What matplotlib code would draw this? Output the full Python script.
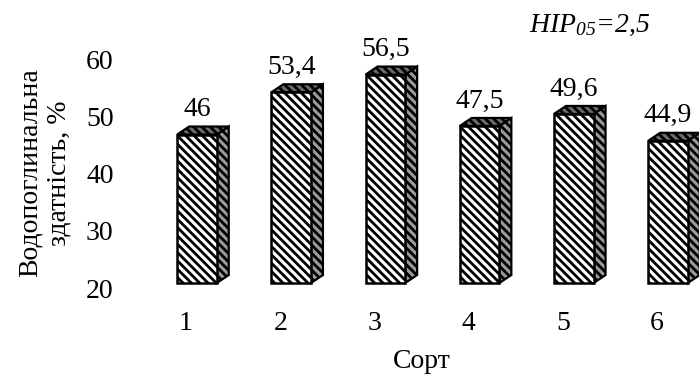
import matplotlib.pyplot as plt
import matplotlib.transforms as mtransforms
from matplotlib.patches import Polygon, Rectangle

plt.rcParams['font.family'] = ['Liberation Serif', 'DejaVu Serif']
plt.rcParams['mathtext.fontset'] = 'custom'
plt.rcParams['mathtext.it'] = 'Liberation Serif:italic'
plt.rcParams['mathtext.rm'] = 'Liberation Serif:italic'
plt.rcParams['hatch.linewidth'] = 2.0

# Sorts and their water absorption
sorts = ['1', '2', '3', '4', '5', '6']
values = [46, 53.4, 56.5, 47.5, 49.6, 44.9]
value_labels = ['46', '53,4', '56,5', '47,5', '49,6', '44,9']
yticks = [20, 30, 40, 50, 60]

base = 20
w = 0.42      # bar width (category units)
dx = 0.127    # depth offset, x
dy = 1.4      # depth offset, y
fs = 20

fig = plt.figure(figsize=(6.99, 3.74), dpi=100)
ax = fig.add_axes([140 / 699, 91 / 374, 559 / 699, 0.7024])
ax.set_xlim(0.395, 6.329)
ax.set_ylim(20, 66)

for i, v in enumerate(values):
    x = i + 1
    left, right = x - w / 2, x + w / 2
    # side face
    side = Polygon([(right, base), (right + dx, base + dy), (right + dx, v + dy), (right, v)],
                   closed=True, facecolor='#9a9a9a', edgecolor='black', hatch='\\\\\\\\',
                   lw=1.6, clip_on=False, zorder=2)
    # top face
    top = Polygon([(left, v), (right, v), (right + dx, v + dy), (left + dx, v + dy)],
                  closed=True, facecolor='#6a6a6a', edgecolor='black', hatch='\\\\\\\\',
                  lw=1.6, clip_on=False, zorder=2)
    # front face
    front = Rectangle((left, base), w, v - base, facecolor='white', edgecolor='black',
                      hatch='\\\\\\\\', lw=1.8, clip_on=False, zorder=3)
    ax.add_patch(side)
    ax.add_patch(top)
    ax.add_patch(front)
    ax.annotate(value_labels[i], (x, v), xytext=(0, 18), textcoords='offset points',
                ha='center', va='center', fontsize=fs)

for s in ax.spines.values():
    s.set_visible(False)

ax.set_xticks(range(1, len(sorts) + 1))
ax.set_xticklabels(sorts)
ax.set_yticks(yticks)
ax.tick_params(axis='both', length=0, labelsize=fs)
ax.tick_params(axis='x', pad=20)
ax.tick_params(axis='y', pad=19)

shift_x = mtransforms.ScaledTranslation(-11 / 100, 0, fig.dpi_scale_trans)
for lab in ax.get_xticklabels():
    lab.set_transform(lab.get_transform() + shift_x)
shift_y = mtransforms.ScaledTranslation(0, -5 / 100, fig.dpi_scale_trans)
for lab in ax.get_yticklabels():
    lab.set_transform(lab.get_transform() + shift_y)

fig.text(45 / 699, 1 - 173 / 374, 'Водопоглинальна\nздатність, %', rotation=90,
         ha='center', va='center', multialignment='center', fontsize=fs)
fig.text(422 / 699, 1 - 361 / 374, 'Сорт', ha='center', va='center', fontsize=fs)
fig.text(590 / 699, 1 - 25 / 374, r'$HIP_{05}$=2,5', ha='center', va='center',
         fontsize=fs, style='italic')

fig.savefig('out.png', dpi=100)
